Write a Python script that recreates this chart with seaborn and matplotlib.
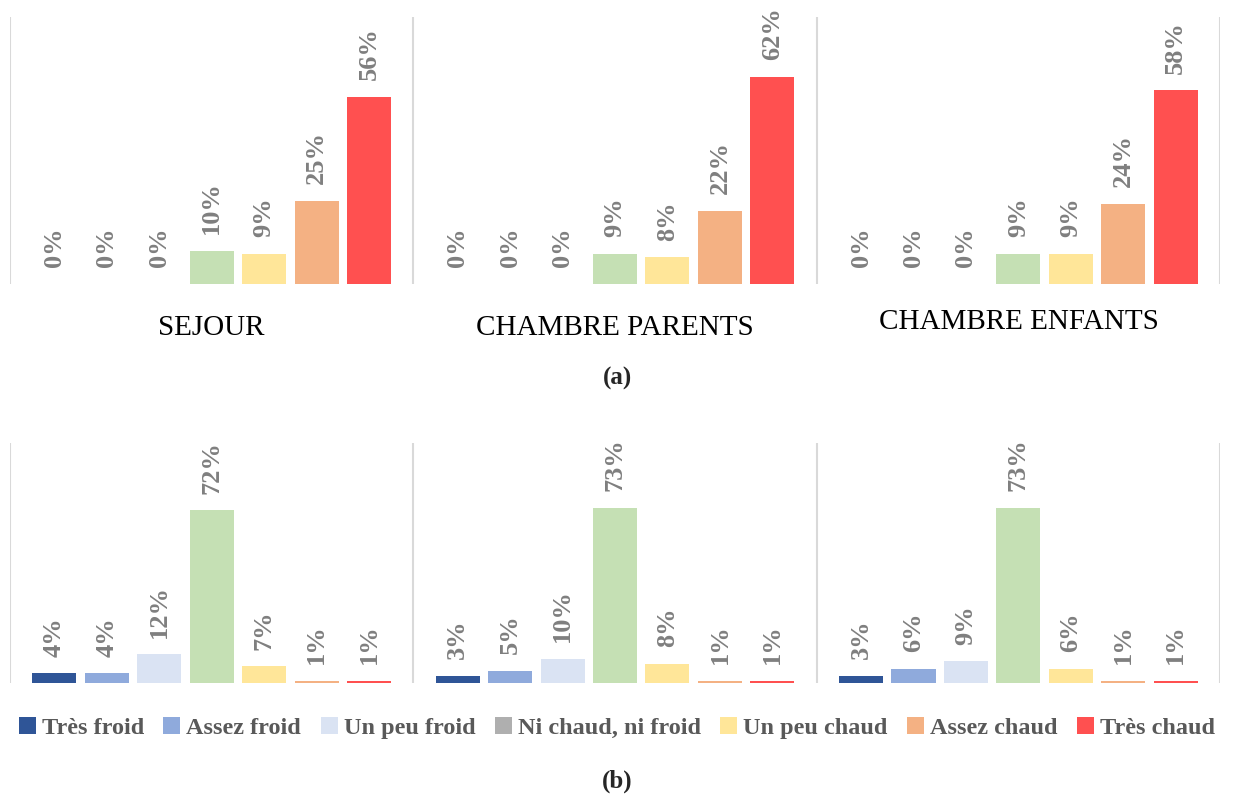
import pandas as pd
import matplotlib.pyplot as plt
import seaborn as sns
from matplotlib.patches import Patch

rooms = ['SEJOUR', 'CHAMBRE PARENTS', 'CHAMBRE ENFANTS']
levels = ['Très froid', 'Assez froid', 'Un peu froid', 'Ni chaud, ni froid',
          'Un peu chaud', 'Assez chaud', 'Très chaud']

# (a) values per room, in the order of levels
vals_a_sejour = [0, 0, 0, 10, 9, 25, 56]
vals_a_parents = [0, 0, 0, 9, 8, 22, 62]
vals_a_enfants = [0, 0, 0, 9, 9, 24, 58]

# (b) values per room
vals_b_sejour = [4, 4, 12, 72, 7, 1, 1]
vals_b_parents = [3, 5, 10, 73, 8, 1, 1]
vals_b_enfants = [3, 6, 9, 73, 6, 1, 1]

bar_colors = ['#2F5597', '#8FAADC', '#DAE3F3', '#C5E0B4', '#FFE699', '#F4B183', '#FF5050']
legend_colors = ['#2F5597', '#8FAADC', '#DAE3F3', '#AFAFAF', '#FFE699', '#F4B183', '#FF5050']


def make_df(*room_vals):
    rows = []
    for room, vals in zip(rooms, room_vals):
        for lvl, v in zip(levels, vals):
            rows.append({'room': room, 'level': lvl, 'value': v / 100})
    return pd.DataFrame(rows)


df_a = make_df(vals_a_sejour, vals_a_parents, vals_a_enfants)
df_b = make_df(vals_b_sejour, vals_b_parents, vals_b_enfants)

sns.set_style('white')
plt.rcParams['font.family'] = ['Liberation Serif', 'DejaVu Serif']

fig = plt.figure(figsize=(12.34, 8.01), dpi=100)
ax_a = fig.add_axes([0.0081, 0.6454, 0.9806, 0.3334])
ax_b = fig.add_axes([0.0081, 0.1473, 0.9806, 0.2996])

palette = dict(zip(levels, bar_colors))

for ax, df, ymax in [(ax_a, df_a, 0.80), (ax_b, df_b, 1.0)]:
    sns.barplot(data=df, x='room', y='value', hue='level', hue_order=levels,
                order=rooms, palette=palette, width=0.91, gap=0.16,
                errorbar=None, legend=False, ax=ax, saturation=1,
                edgecolor='none', linewidth=0)
    for c in ax.containers:
        ax.bar_label(c, labels=[f'{b.get_height() * 100:.0f}%' for b in c],
                     rotation=90, padding=12, color='#7F7F7F',
                     fontsize=19, fontweight='bold')
    ax.set_xlim(-0.5, 2.5)
    ax.set_ylim(0, ymax)
    for xv in [-0.5, 0.5, 1.5, 2.5]:
        ax.axvline(xv, color='#D9D9D9', lw=1.5)
    for s in ax.spines.values():
        s.set_visible(False)
    ax.set_xticks([])
    ax.set_yticks([])
    ax.set_xlabel('')
    ax.set_ylabel('')

# room names below the top panel
label_y = [-0.165, -0.165, -0.142]
for i, room in enumerate(rooms):
    ax_a.text(i, label_y[i], room, transform=ax_a.get_xaxis_transform(),
              ha='center', va='center', fontsize=21, color='black')

fig.text(0.5, 0.528, '(a)', ha='center', va='center', fontsize=18, fontweight='bold')
fig.text(0.5, 0.025, '(b)', ha='center', va='center', fontsize=18, fontweight='bold')

handles = [Patch(facecolor=c, edgecolor='none') for c in legend_colors]
leg = fig.legend(handles, levels, loc='center', bbox_to_anchor=(0.5, 0.0911), ncol=7,
                 frameon=False, handlelength=0.7, handleheight=0.7, handletextpad=0.25,
                 columnspacing=0.8, prop={'size': 17.5, 'weight': 'bold'})
for t in leg.get_texts():
    t.set_color('#595959')

plt.savefig('out.png', dpi=100)
plt.close()
